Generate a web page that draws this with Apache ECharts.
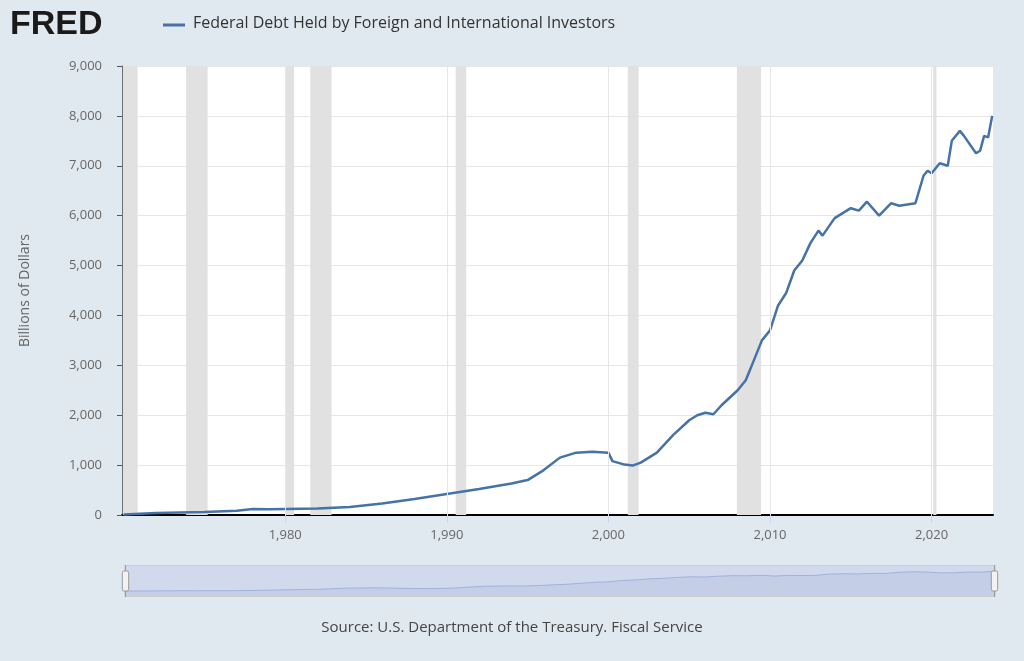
<!DOCTYPE html>
<html lang="en">
<head>
<meta charset="UTF-8" />
<title>FRED - Federal Debt Held by Foreign and International Investors</title>
<script src="https://cdn.jsdelivr.net/npm/echarts@6/dist/echarts.min.js"></script>
<style>body{margin:0;background:#e1e9f0}</style>
</head>
<body>
<div id="container" style="width:1024px;height:661px"></div>
<script>
// data (decimal years, billions of dollars)
var years = [1970, 1972, 1975, 1977, 1978, 1979, 1980, 1982, 1984, 1986, 1988, 1990, 1992, 1994, 1995, 1996, 1997, 1998, 1999, 2000, 2000.25, 2001, 2001.5, 2002, 2003, 2004, 2005, 2005.5, 2006, 2006.5, 2007, 2008, 2008.5, 2009, 2009.5, 2010, 2010.5, 2011, 2011.5, 2012, 2012.5, 2013, 2013.25, 2014, 2015, 2015.5, 2016, 2016.75, 2017.5, 2018, 2019, 2019.5, 2019.75, 2020, 2020.5, 2021, 2021.25, 2021.75, 2022, 2022.75, 2023, 2023.25, 2023.5, 2023.75]
var debt = [12, 40, 60, 85, 120, 115, 120, 130, 160, 230, 320, 420, 520, 630, 700, 900, 1150, 1250, 1270, 1250, 1080, 1010, 990, 1050, 1250, 1600, 1900, 2000, 2050, 2020, 2200, 2500, 2700, 3100, 3500, 3700, 4200, 4450, 4900, 5100, 5450, 5700, 5600, 5950, 6150, 6100, 6280, 6000, 6250, 6200, 6250, 6800, 6900, 6850, 7050, 7000, 7500, 7700, 7600, 7250, 7300, 7600, 7570, 8000]
var recessions = [[1969.95, 1970.87], [1973.87, 1975.2], [1980.0, 1980.55], [1981.55, 1982.87], [1990.55, 1991.2], [2001.2, 2001.87], [2007.95, 2009.45], [2020.1, 2020.3]]
var decades = [1980, 1990, 2000, 2010, 2020]

var myChart = echarts.init(document.getElementById('container'))
var points = years.map(function (y, i) { return [y, debt[i]] })

myChart.setOption({
  backgroundColor: '#e1e9f0',
  animation: false,
  textStyle: { fontFamily: 'Open Sans' },
  graphic: [
    { type: 'text', left: 10, top: 8, style: { text: 'FRED', font: 'bold 34px Arial', fill: '#1a1a1a' } },
    { type: 'line', shape: { x1: 163, y1: 25, x2: 185, y2: 25 }, style: { stroke: '#4572a7', lineWidth: 3 } },
    { type: 'text', left: 193, top: 15, style: { text: 'Federal Debt Held by Foreign and International Investors', font: '16px "Open Sans"', fill: '#333' } },
    { type: 'text', left: 'center', top: 620, style: { text: 'Source: U.S. Department of the Treasury. Fiscal Service', font: '15px "Open Sans"', fill: '#444' } }
  ],
  grid: { left: 122, right: 31, top: 66, bottom: 146, backgroundColor: '#fff', show: true, borderWidth: 0 },
  xAxis: {
    type: 'value', min: 1969.9, max: 2023.8,
    axisLine: { lineStyle: { color: '#000', width: 2 } },
    axisTick: { customValues: decades, length: 8, lineStyle: { color: '#ccd6eb' } },
    axisLabel: { customValues: decades, color: '#666', fontSize: 13, margin: 14 },
    splitLine: { show: false }
  },
  yAxis: {
    type: 'value', min: 0, max: 9000, interval: 1000,
    name: 'Billions of Dollars', nameLocation: 'middle', nameGap: 90,
    nameTextStyle: { color: '#666', fontSize: 14 },
    axisLabel: { color: '#666', fontSize: 13, margin: 20, formatter: function (v) { return v.toLocaleString('en-US') } },
    splitLine: { lineStyle: { color: '#e6e6e6' } }
  },
  dataZoom: [{
    type: 'slider', xAxisIndex: 0, left: 122, right: 31, top: 565, height: 32,
    backgroundColor: '#fff', borderColor: '#ccc', fillerColor: 'rgba(102,133,194,0.3)',
    dataBackground: { lineStyle: { color: '#4572a7' }, areaStyle: { color: '#6685c2', opacity: 0.6 } },
    labelFormatter: '', showDetail: false, brushSelect: false,
    handleStyle: { color: '#f2f2f2', borderColor: '#999' }
  }],
  series: [{
    type: 'line', data: points, showSymbol: false,
    lineStyle: { color: '#4572a7', width: 2.5 },
    markArea: { silent: true, itemStyle: { color: '#e1e1e1' }, data: recessions.map(function (r) { return [{ xAxis: r[0] }, { xAxis: r[1] }] }) },
    markLine: { silent: true, symbol: 'none', label: { show: false }, lineStyle: { color: '#e6e6e6', type: 'solid', width: 1 }, data: decades.map(function (d) { return { xAxis: d } }) }
  }]
})
</script>
</body>
</html>
